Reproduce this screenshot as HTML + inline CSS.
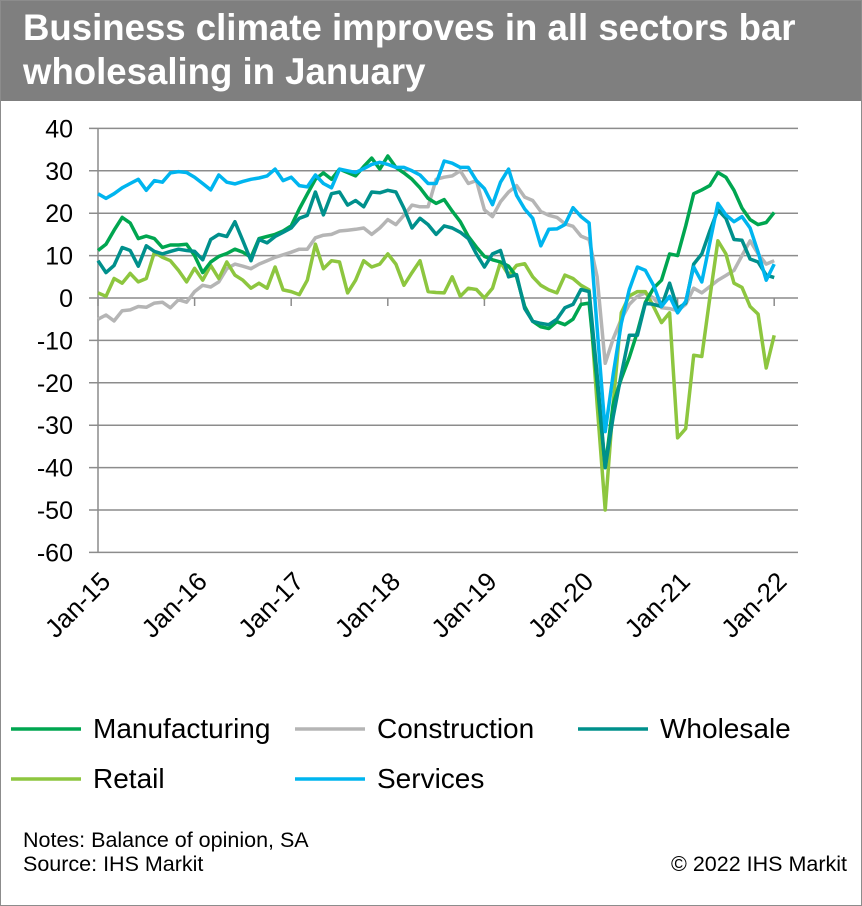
<!DOCTYPE html>
<html><head><meta charset="utf-8"><style>
body{margin:0;background:#fff;}
#wrap{position:relative;width:860px;height:904px;border:1px solid #8c8c8c;overflow:hidden;font-family:"Liberation Sans",Arial,sans-serif;}
#title{position:absolute;left:0;top:0;width:860px;height:100px;background:#7f7f7f;color:#fff;font-weight:bold;font-size:36.6px;line-height:44px;padding:5px 0 0 22px;box-sizing:border-box;white-space:nowrap;}
.note{position:absolute;font-size:21.5px;color:#000;white-space:nowrap;}
</style></head><body>
<div id="wrap">
<div id="title">Business climate improves in all sectors bar<br>wholesaling in January</div>
<svg id="chart" width="860" height="820" style="position:absolute;left:0;top:0" xmlns="http://www.w3.org/2000/svg"></svg>
<div class="note" style="left:22px;top:827px">Notes: Balance of opinion, SA</div>
<div class="note" style="left:22px;top:851px">Source: IHS Markit</div>
<div class="note" style="right:14px;top:851px">© 2022 IHS Markit</div>
</div>
<script>
const yTicks=[40,30,20,10,0,-10,-20,-30,-40,-50,-60];
const xLabels=["Jan-15","Jan-16","Jan-17","Jan-18","Jan-19","Jan-20","Jan-21","Jan-22"];
const seriesNames=["Manufacturing","Construction","Wholesale","Retail","Services"];
const manufacturing=[11.2,12.7,16,19,17.7,14,14.6,14,11.9,12.5,12.5,12.7,10,6,8.5,9.8,10.5,11.5,10.8,9.6,14,14.5,15,15.8,17,21,24.5,28,29.5,28,30.4,29.6,28.8,31,33,30.4,33.5,30.8,29.5,28,26,23.5,22.3,23.2,20.5,18,14.5,12,9.8,9,8.5,7.5,5,-2,-5.5,-6.8,-7.2,-5.6,-6.3,-5,-1.5,-1.2,-20,-40,-25,-19,-14,-8,-1,2.3,4.2,10.4,10,17,24.6,25.5,26.5,29.6,28.5,25.4,21.2,18.5,17.3,17.8,20.2];
const construction=[-5,-4,-5.4,-3,-2.8,-2,-2.2,-1.2,-1,-2.3,-0.4,-1,1.5,3,2.6,3.8,6.9,8,7.5,6.9,8,8.8,9.6,10.2,10.8,11.5,11.5,14.2,14.8,15,15.8,16,16.2,16.5,15,16.5,18.5,17.3,19.5,21.9,21.5,21.5,28,28.5,28.8,30,27,27.7,20.8,19.2,22.7,25,26.5,23.8,23,20.4,19.5,19,17.5,16.9,14.6,13.8,5,-15.4,-9.6,-5,-1.5,0.4,1.2,0,-2.3,-2.5,-3,-1.5,2.3,1.2,2.7,4.2,5.3,6.5,10,13.5,10.4,8,8.8];
const wholesale=[8.8,6,7.7,11.9,11.2,7.5,12.3,11,10.4,11,11.5,11.2,11,9,13.8,15,14.5,18,13.5,8.8,13.8,13,14.5,15.5,16.5,18.8,19.5,25,19.6,24.6,25,21.9,23,21.5,25,24.8,25.4,25,21.2,16.5,18.8,17.3,15,17,16.5,15.5,14,10.4,7.3,10.4,11.2,5,5.5,-2.5,-5.5,-6,-6.3,-5,-2.3,-1.5,2,1.5,-18,-40,-28,-18,-8.8,-8.8,-1.2,-1.5,-2,3.5,-2.5,-1.2,8,10.4,15.8,20.8,18.8,13.8,13.6,9.2,8.5,5.4,4.8];
const retail=[1.2,0.4,4.6,3.5,5.8,3.8,4.6,10.8,9.6,8.8,6.5,3.8,7,4.2,7.7,4.6,8.5,5.4,4.2,2.3,3.5,2.3,7.3,1.9,1.5,0.8,4.2,12.7,6.9,8.8,8.5,1.2,4.2,8.8,7.3,8,10.4,8,3,6,8.8,1.5,1.3,1.2,5,0.4,2.3,2,0,2.3,8.5,5.4,7.7,8.1,5,3,1.9,1.2,5.4,4.6,3,1.9,-25,-50,-25,-3.5,0.5,1.5,1.5,-2,-5.8,-3.5,-33,-30.8,-13.5,-13.8,0,13.5,10.4,3.5,2.5,-2,-3.8,-16.5,-8.8];
const services=[24.6,23.5,24.6,26,27,28,25.4,27.7,27.3,29.5,29.8,29.6,28.5,27,25.5,29,27.3,26.9,27.5,28,28.3,28.8,30.4,27.7,28.5,26.5,26.2,29,27,26,30.4,30,29.6,30.5,31.5,32,31.5,30.8,30.8,30,29,27,27,32.3,31.8,30.8,30.8,27.7,25.8,22,27.3,30.4,24.2,21,18.8,12.3,16.2,16.3,17.3,21.3,19.2,17.7,-7,-31.5,-18,-6,2,7.3,6.5,3,-2,0.4,-3.5,-0.8,7.3,3.8,13,22.3,19.6,18,19.2,16.5,10.8,4.2,8];

const NS="http://www.w3.org/2000/svg";
const svg=document.getElementById('chart');
const X0=97,MPX=8.05,Y0=297,UPX=4.24,XR=797;
const xs=m=>X0+m*MPX;
const ys=v=>Y0-v*UPX;
function mk(t,a){const e=document.createElementNS(NS,t);for(const k in a)e.setAttribute(k,a[k]);svg.appendChild(e);return e;}
yTicks.forEach(v=>{
  const g=mk('line',{x1:88,x2:XR,y1:ys(v),y2:ys(v),stroke:'#8c8c8c','stroke-width':1.5});
  
  
  const t=mk('text',{x:72,y:ys(v)+9,'text-anchor':'end','font-size':25,'font-family':'Liberation Sans, Arial, sans-serif',fill:'#000'});
  t.textContent=v;
  
  
});
const ax=mk('line',{x1:X0,x2:X0,y1:ys(40),y2:ys(-60),stroke:'#8c8c8c','stroke-width':1.5});


xLabels.forEach((l,i)=>{
  const x=xs(i*12);
  const tk=mk('line',{x1:x,x2:x,y1:Y0,y2:Y0+8,stroke:'#8c8c8c','stroke-width':1.5});
  
  
  const t=mk('text',{x:x+14,y:582,'text-anchor':'end','font-size':26,'font-family':'Liberation Sans, Arial, sans-serif',fill:'#000',transform:`rotate(-45 ${x+14} 582)`});
  t.textContent=l;
  
  
});
const colors=['#00A650','#B5B5B5','#00908C','#8DC63F','#00B5EF'];
const data=[construction,retail,manufacturing,wholesale,services];
const order=[1,3,0,2,4];
data.forEach((arr,j)=>{
  const idx=order[j];
  const p=mk('polyline',{points:arr.map((v,m)=>xs(m).toFixed(1)+','+ys(v).toFixed(1)).join(' '),fill:'none',stroke:colors[idx],'stroke-width':3.5,'stroke-linejoin':'round'});
  
  
});
const legPos=[[10,728],[294,728],[577,728],[10,778],[294,778]];
seriesNames.forEach((n,i)=>{
  const [lx,ly]=legPos[i];
  const l=mk('line',{x1:lx,x2:lx+70,y1:ly,y2:ly,stroke:colors[i],'stroke-width':3.5});
  
  
  const t=mk('text',{x:lx+82,y:ly+9,'font-size':28,'font-family':'Liberation Sans, Arial, sans-serif',fill:'#000'});
  t.textContent=n;
  
  
});
</script>
</body></html>
